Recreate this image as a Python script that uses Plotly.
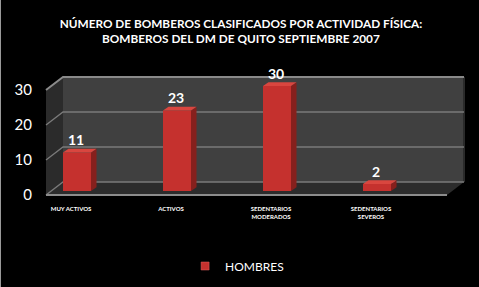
import plotly.graph_objects as go

# ---------------- data ----------------
categories = ["MUY ACTIVOS", "ACTIVOS", "SEDENTARIOS<br>MODERADOS", "SEDENTARIOS<br>SEVEROS"]
hombres = [11, 23, 30, 2]
y_ticks = [0, 10, 20, 30]
y_ticktext = ["0", "10", "20", "30"]
series_name = "HOMBRES"
title_text = ("<b>NÚMERO DE BOMBEROS CLASIFICADOS POR ACTIVIDAD FÍSICA:<br>"
              "BOMBEROS DEL DM DE QUITO SEPTIEMBRE 2007</b>")

# ---------------- geometry / style ----------------
W, H = 479, 287
FONT = "Lato"
x_idx = list(range(len(categories)))
Y_MAX = 30

# main (mid-depth) plane ranges
X_RANGE = [-0.77, 4.02]
Y_RANGE = [-27.43, 54.57]
# front plane offsets relative to bar plane (data units)
FRONT_DX, FRONT_DY = -0.06, -1.14
BACK_DX, BACK_DY = 0.11, 2.57
X_LEFT_FRONT, X_RIGHT_FRONT = -0.31, 3.70
X_LEFT_BACK, X_RIGHT_BACK = X_LEFT_FRONT + (BACK_DX - FRONT_DX), X_RIGHT_FRONT + (BACK_DX - FRONT_DX)

def yf(v):
    return v + FRONT_DY

def yb(v):
    return v + BACK_DY

HALF_W = 0.14
BAR_DX, BAR_DY = 0.055, 1.1

C_FRONT = "#c5312e"
C_SIDE = "#86201d"
C_TOP = "#d9463f"

fig = go.Figure()

# bar front faces
fig.add_trace(go.Bar(x=x_idx, y=hombres, width=2 * HALF_W, marker=dict(color=C_FRONT, line=dict(width=0)),
                     showlegend=False, hoverinfo="skip"))

# side and top faces built from the values
for xi, v in zip(x_idx, hombres):
    xr = xi + HALF_W
    xl = xi - HALF_W
    fig.add_trace(go.Scatter(x=[xr, xr, xr + BAR_DX, xr + BAR_DX, xr], y=[0, v, v + BAR_DY, BAR_DY, 0],
                             fill="toself", fillcolor=C_SIDE, mode="lines", line=dict(width=0),
                             showlegend=False, hoverinfo="skip"))
    fig.add_trace(go.Scatter(x=[xl, xl + BAR_DX, xr + BAR_DX, xr, xl], y=[v, v + BAR_DY, v + BAR_DY, v, v],
                             fill="toself", fillcolor=C_TOP, mode="lines", line=dict(width=0),
                             showlegend=False, hoverinfo="skip"))

# legend entry
fig.add_trace(go.Scatter(x=[None], y=[None], mode="markers", name=series_name,
                         marker=dict(symbol="square", size=8, color=C_FRONT,
                                     line=dict(color="#e06060", width=0.5))))

# dummy trace to attach front-plane axes
fig.add_trace(go.Scatter(x=[None], y=[None], xaxis="x2", yaxis="y2", showlegend=False, hoverinfo="skip"))

# value labels
for xi, v in zip(x_idx, hombres):
    fig.add_annotation(x=xi, y=v, text=f"<b>{v}</b>", showarrow=False, xshift=-1, yshift=13,
                       yanchor="middle", font=dict(family=FONT, size=14, color="white"))

# room shapes
shapes = []
path_left = (f"M {X_LEFT_FRONT},{yf(0)} L {X_LEFT_BACK},{yb(0)} L {X_LEFT_BACK},{yb(Y_MAX)} "
             f"L {X_LEFT_FRONT},{yf(Y_MAX)} Z")
shapes.append(dict(type="path", path=path_left, xref="x", yref="y", fillcolor="#2b2b2b",
                   line=dict(width=0), layer="below"))
shapes.append(dict(type="rect", x0=X_LEFT_BACK, x1=X_RIGHT_BACK, y0=yb(0), y1=yb(Y_MAX), xref="x", yref="y",
                   fillcolor="#404040", line=dict(width=0), layer="below"))
path_floor = (f"M {X_LEFT_FRONT},{yf(0)} L {X_LEFT_BACK},{yb(0)} L {X_RIGHT_BACK},{yb(0)} "
              f"L {X_RIGHT_FRONT},{yf(0)} Z")
shapes.append(dict(type="path", path=path_floor, xref="x", yref="y", fillcolor="#2c2c2c",
                   line=dict(width=0), layer="below"))
shapes.append(dict(type="line", x0=X_RIGHT_BACK, x1=X_RIGHT_BACK, y0=yb(0), y1=yb(Y_MAX), xref="x", yref="y",
                   line=dict(color="#2a2a2a", width=2), layer="below"))
for v in y_ticks:
    top = v == Y_MAX
    path_g = f"M {X_LEFT_FRONT},{yf(v)} L {X_LEFT_BACK},{yb(v)} L {X_RIGHT_BACK},{yb(v)}"
    shapes.append(dict(type="path", path=path_g, xref="x", yref="y",
                       line=dict(color="#8a8a8a" if top else "#7a7a7a", width=2 if top else 1.3),
                       layer="below"))
shapes.append(dict(type="line", x0=X_LEFT_FRONT, x1=X_RIGHT_FRONT, y0=yf(0), y1=yf(0), xref="x", yref="y",
                   line=dict(color="#8c8c8c", width=2), layer="below"))
# slide border at left
shapes.append(dict(type="line", x0=0.5 / W, x1=0.5 / W, y0=0, y1=1, xref="paper", yref="paper",
                   line=dict(color="#9a9a9a", width=1)))

fig.update_layout(
    width=W, height=H,
    margin=dict(l=0, r=0, t=0, b=0),
    paper_bgcolor="black", plot_bgcolor="black",
    shapes=shapes,
    title=dict(text=title_text, x=0.503, xanchor="center", y=1 - 28 / H, yanchor="middle",
               font=dict(family=FONT, size=11.8, color="white")),
    xaxis=dict(range=X_RANGE, domain=[0, 1], visible=False, fixedrange=True),
    yaxis=dict(range=Y_RANGE, domain=[0, 1], visible=False, fixedrange=True),
    xaxis2=dict(range=[X_RANGE[0] - FRONT_DX, X_RANGE[1] - FRONT_DX], overlaying="x", anchor="free",
                position=1 - 204 / H, side="bottom", tickvals=x_idx, ticktext=[f"<b>{c}</b>" for c in categories],
                tickfont=dict(family=FONT, size=6, color="white"), showgrid=False, zeroline=False,
                showline=False, ticks="", fixedrange=True),
    yaxis2=dict(range=[Y_RANGE[0] - FRONT_DY, Y_RANGE[1] - FRONT_DY], overlaying="y", anchor="free",
                position=32 / W, side="left", tickvals=y_ticks, ticktext=y_ticktext,
                tickfont=dict(family=FONT, size=15, color="white"), showgrid=False, zeroline=False,
                showline=False, ticks="", fixedrange=True),
    legend=dict(orientation="h", x=0.495, xanchor="center", y=1 - 266 / H, yanchor="middle",
                font=dict(family=FONT, size=12, color="white"), bgcolor="rgba(0,0,0,0)",
                itemwidth=30),
    showlegend=True,
)

fig.write_html("out.html")
